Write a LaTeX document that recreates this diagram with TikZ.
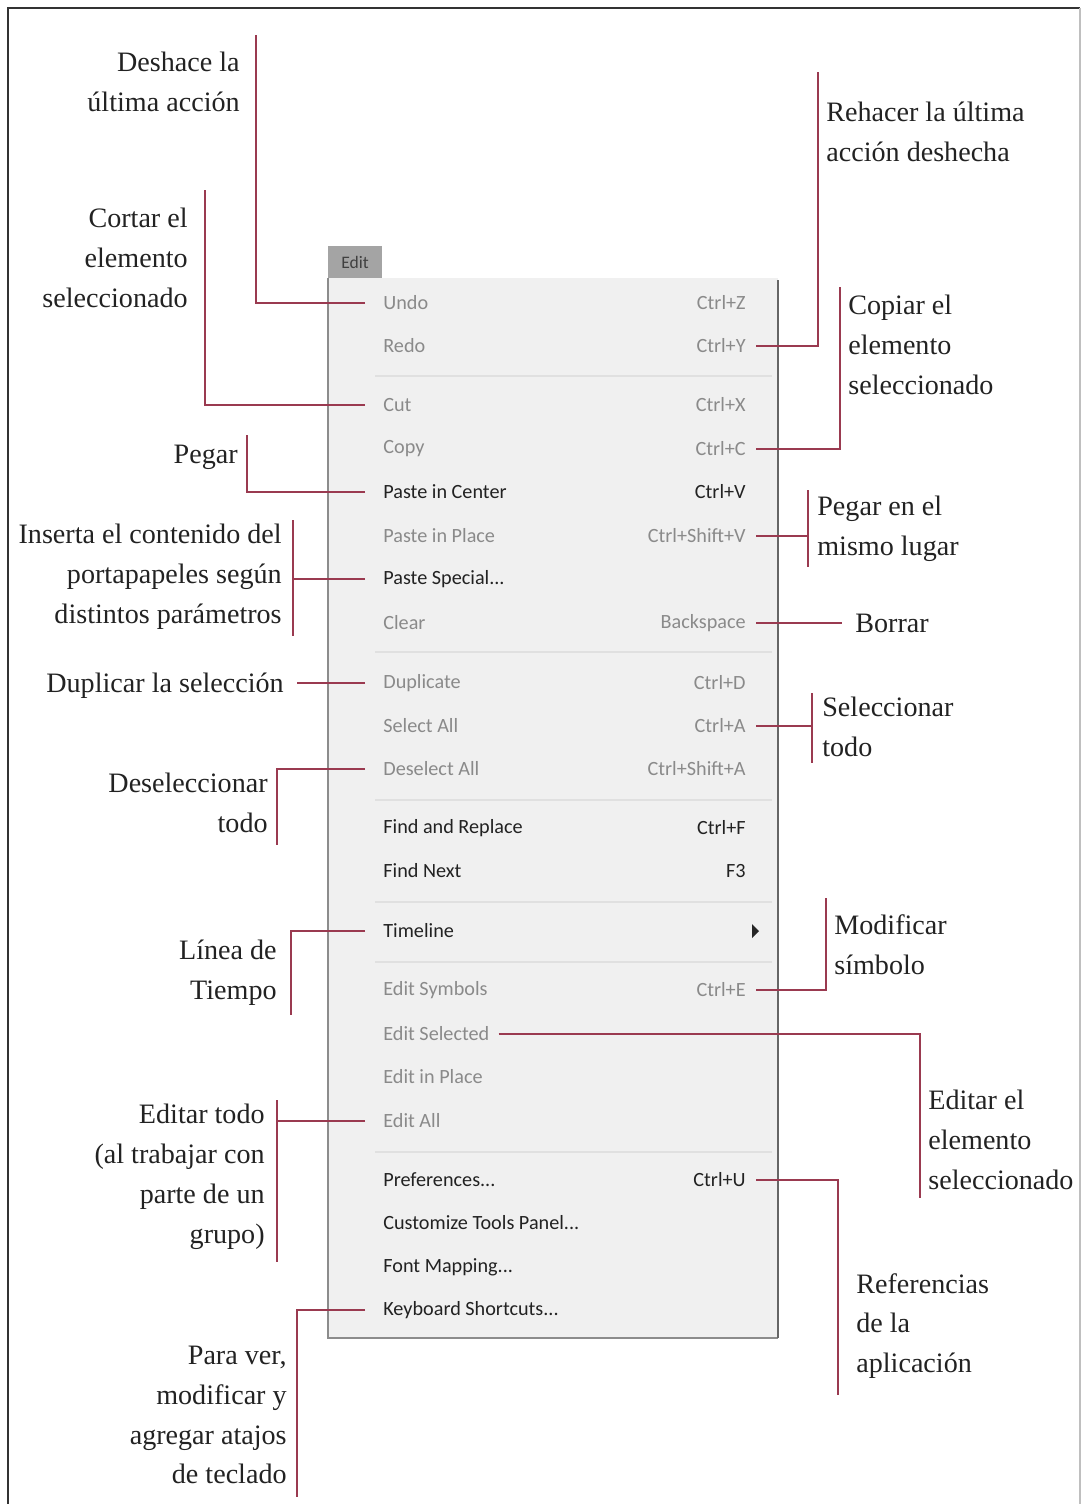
\documentclass[tikz,border=0pt]{standalone}
\usepackage{fontspec}
\setmainfont{Liberation Serif}
\newfontfamily\menufont{Carlito}
\usepackage{xcolor}
\usepackage{tikz}
\usetikzlibrary{positioning, calc}
\definecolor{calloutred}{HTML}{9A3A50}
\definecolor{menubg}{HTML}{F0F0F0}
\definecolor{menuedge}{HTML}{8C8C8C}
\definecolor{dimtext}{HTML}{8A8A8A}
\definecolor{inktext}{HTML}{222222}
\definecolor{tabgrey}{HTML}{A4A4A4}

\begin{document}
\begin{tikzpicture}[
    x=0.02cm, y=-0.02cm,
    labelfont/.style={font=\fontsize{16}{22.7}\selectfont, text=inktext},
    leftlabel/.style={labelfont, align=right, anchor=east, inner xsep=0.26cm, inner ysep=0pt},
    rightlabel/.style={labelfont, align=left, anchor=west, inner xsep=0.26cm, inner ysep=0pt},
    item/.style={font=\menufont\fontsize{11.5}{13}\selectfont, anchor=west, inner xsep=0.36cm, inner ysep=1pt, text=inktext},
    dimitem/.style={item, text=dimtext},
    keyitem/.style={font=\menufont\fontsize{11.5}{13}\selectfont, anchor=east, inner xsep=0.2cm, inner ysep=1pt, text=inktext},
    dimkey/.style={keyitem, text=dimtext},
    callout/.style={draw=calloutred, line width=1.1pt},
    separator/.style={draw=black!12, line width=0.8pt}
  ]
  \useasboundingbox (0,0) rectangle (1081,1504);

  % ===== frame =====
  \draw[black!80, line width=1.4pt] (8,1504) -- (8,8) -- (1080,8);
  \draw[black!25, line width=0.6pt] (1080,8) -- (1080,1504);

  % ===== menu panel =====
  \fill[menubg] (328,278) rectangle (778,1338);
  \draw[menuedge, line width=0.8pt] (328,278) -- (328,1338) -- (778,1338);
  \draw[black!60, line width=1.2pt] (778,280) -- (778,1338);
  \node[fill=tabgrey, minimum width=1.08cm, minimum height=0.64cm, inner sep=0pt,
        font=\menufont\fontsize{10}{12}\selectfont, text=black!75] (edittab) at (355,262) {Edit};

  \draw[separator] (375,376) -- (772,376);
  \draw[separator] (375,652) -- (772,652);
  \draw[separator] (375,800) -- (772,800);
  \draw[separator] (375,902) -- (772,902);
  \draw[separator] (375,962) -- (772,962);
  \draw[separator] (375,1152) -- (772,1152);

  % ===== menu items =====
  \node[dimitem] (undo) at (365,303) {Undo};
  \node[dimitem] (redo) at (365,346) {Redo};
  \node[dimitem] (cut) at (365,405) {Cut};
  \node[dimitem] (copy) at (365,449) {Copy};
  \node[item] (pastectr) at (365,492) {Paste in Center};
  \node[dimitem] (pasteplc) at (365,536) {Paste in Place};
  \node[item] (pastesp) at (365,579) {Paste Special...};
  \node[dimitem] (clear) at (365,623) {Clear};
  \node[dimitem] (dup) at (365,683) {Duplicate};
  \node[dimitem] (selall) at (365,726) {Select All};
  \node[dimitem] (desel) at (365,769) {Deselect All};
  \node[item] (findrep) at (365,828) {Find and Replace};
  \node[item] (findnext) at (365,871) {Find Next};
  \node[item] (timeline) at (365,931) {Timeline};
  \node[dimitem] (editsym) at (365,990) {Edit Symbols};
  \node[dimitem, inner xsep=0.18cm] (editsel) at (374,1034) {Edit Selected};
  \node[dimitem] (editplc) at (365,1077) {Edit in Place};
  \node[dimitem] (editall) at (365,1121) {Edit All};
  \node[item] (prefs) at (365,1180) {Preferences...};
  \node[item] (custom) at (365,1223) {Customize Tools Panel...};
  \node[item] (fontmap) at (365,1267) {Font Mapping...};
  \node[item] (keys) at (365,1310) {Keyboard Shortcuts...};

  % ===== shortcuts =====
  \node[dimkey] (undokey) at (756,303) {Ctrl+Z};
  \node[dimkey] (redokey) at (756,346) {Ctrl+Y};
  \node[dimkey] (cutkey) at (756,405) {Ctrl+X};
  \node[dimkey] (copykey) at (756,449) {Ctrl+C};
  \node[keyitem] (pastectrkey) at (756,492) {Ctrl+V};
  \node[dimkey] (pasteplckey) at (756,536) {Ctrl+Shift+V};
  \node[dimkey] (clearkey) at (756,623) {Backspace};
  \node[dimkey] (dupkey) at (756,683) {Ctrl+D};
  \node[dimkey] (selallkey) at (756,726) {Ctrl+A};
  \node[dimkey] (deselkey) at (756,769) {Ctrl+Shift+A};
  \node[keyitem] (findrepkey) at (756,828) {Ctrl+F};
  \node[keyitem] (findnextkey) at (756,871) {F3};
  \node[dimkey] (editsymkey) at (756,990) {Ctrl+E};
  \node[keyitem] (prefskey) at (756,1180) {Ctrl+U};
  \fill[black!85] (752,924) -- (759,931) -- (752,938) -- cycle;

  % ===== labels, left =====
  \node[leftlabel] (deshace) at (253,82) {Deshace la\\última acción};
  \node[leftlabel] (cortar) at (201,258) {Cortar el\\elemento\\seleccionado};
  \node[leftlabel] (pegar) at (251,457) {Pegar};
  \node[leftlabel] (inserta) at (295,577) {Inserta el contenido del\\portapapeles según\\distintos parámetros};
  \node[leftlabel] (duplicar) at (297,686) {Duplicar la selección};
  \node[leftlabel] (deselec) at (281,803) {Deseleccionar\\todo};
  \node[leftlabel] (linea) at (290,973) {Línea de\\Tiempo};
  \node[leftlabel] (editodo) at (278,1177) {Editar todo\\(al trabajar con\\parte de un\\grupo)};
  \node[leftlabel] (paraver) at (300,1415) {Para ver,\\modificar y\\agregar atajos\\de teclado};

  % ===== labels, right =====
  \node[rightlabel] (rehacer) at (813,132) {Rehacer la última\\acción deshecha};
  \node[rightlabel] (copiar) at (835,345) {Copiar el\\elemento\\seleccionado};
  \node[rightlabel] (pegarmismo) at (804,529) {Pegar en el\\mismo lugar};
  \node[rightlabel] (borrar) at (842,623) {Borrar};
  \node[rightlabel] (selectodo) at (809,727) {Seleccionar\\todo};
  \node[rightlabel] (modificar) at (821,945) {Modificar\\símbolo};
  \node[rightlabel] (editarel) at (915,1140) {Editar el\\elemento\\seleccionado};
  \node[rightlabel] (referencias) at (843,1326) {Referencias\\de la\\aplicación};

  % ===== connector ends =====
  \coordinate (deshacetop) at (256,35);
  \coordinate (cortartop) at (205,190);
  \coordinate (pegartop) at (247,435);
  \coordinate (insertaA) at (293,520);
  \coordinate (insertaB) at (293,636);
  \coordinate (deselbot) at (277,845);
  \coordinate (lineabot) at (291,1015);
  \coordinate (editodoA) at (277,1100);
  \coordinate (editodoB) at (277,1262);
  \coordinate (paraverbot) at (297,1497);
  \coordinate (rehacertop) at (818,72);
  \coordinate (copiartop) at (840,287);
  \coordinate (mismoA) at (808,490);
  \coordinate (mismoB) at (808,567);
  \coordinate (todoA) at (812,693);
  \coordinate (todoB) at (812,763);
  \coordinate (modiftop) at (826,898);
  \coordinate (editarbot) at (920,1198);
  \coordinate (refbot) at (838,1395);

  % ===== connectors =====
  \draw[callout] (undo.west) -| (deshacetop);
  \draw[callout] (cut.west) -| (cortartop);
  \draw[callout] (pastectr.west) -| (pegartop);
  \draw[callout] (insertaA) -- (insertaB);
  \draw[callout] (pastesp.west) -- (pastesp.west -| insertaA);
  \draw[callout] (dup.west) -- (dup.west -| duplicar.east);
  \draw[callout] (desel.west) -| (deselbot);
  \draw[callout] (timeline.west) -| (lineabot);
  \draw[callout] (editodoA) -- (editodoB);
  \draw[callout] (editall.west) -- (editall.west -| editodoA);
  \draw[callout] (keys.west) -| (paraverbot);

  \draw[callout] (redokey.east) -| (rehacertop);
  \draw[callout] (copykey.east) -| (copiartop);
  \draw[callout] (mismoA) -- (mismoB);
  \draw[callout] (pasteplckey.east) -- (pasteplckey.east -| mismoA);
  \draw[callout] (clearkey.east) -- (borrar.west);
  \draw[callout] (todoA) -- (todoB);
  \draw[callout] (selallkey.east) -- (selallkey.east -| todoA);
  \draw[callout] (editsymkey.east) -| (modiftop);
  \draw[callout] (editsel.east) -| (editarbot);
  \draw[callout] (prefskey.east) -| (refbot);

\end{tikzpicture}
\end{document}
